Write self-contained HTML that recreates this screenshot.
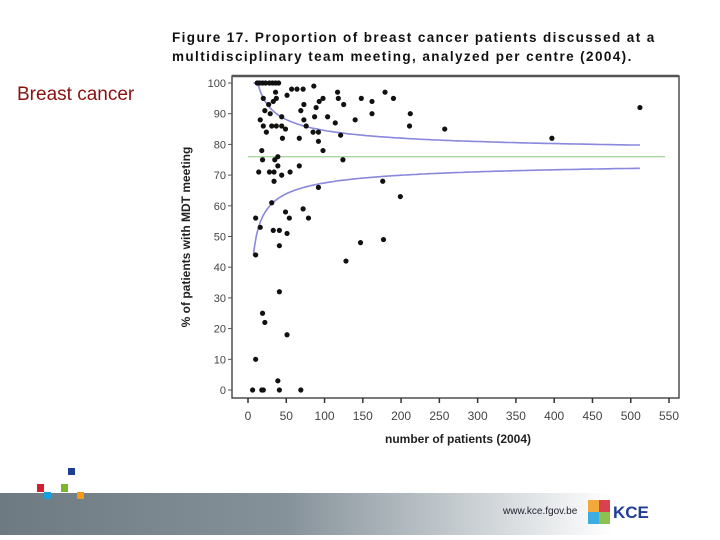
<!DOCTYPE html>
<html><head><meta charset="utf-8"><style>
body{margin:0;width:720px;height:540px;overflow:hidden;background:#fff;font-family:"Liberation Sans",sans-serif;position:relative}
.abs{position:absolute}
</style></head><body>
<div class="abs" style="left:17px;top:84px;font-size:19px;color:#8b1111">Breast cancer</div>
<div class="abs" style="left:172px;top:28px;font-size:13.5px;font-weight:bold;line-height:19px;letter-spacing:1.4px;color:#111;white-space:nowrap">Figure 17. Proportion of breast cancer patients discussed at a<br>multidisciplinary team meeting, analyzed per centre (2004).</div>
<svg class="abs" style="left:0;top:0" width="720" height="540">
<g id="g"></g>
</svg>
<div class="abs" style="left:0;top:493px;width:720px;height:42px;background:linear-gradient(90deg,#6d7a82 0%,#86929a 40%,#c8ced2 65%,#fff 85%)"></div>
<div class="abs" style="left:68px;top:468px;width:7px;height:7px;background:#1f3f93"></div>
<div class="abs" style="left:37px;top:484px;width:7px;height:8px;background:#d2202f"></div>
<div class="abs" style="left:61px;top:484px;width:7px;height:8px;background:#7ab52e"></div>
<div class="abs" style="left:44px;top:492px;width:7px;height:7px;background:#1aa0dc"></div>
<div class="abs" style="left:77px;top:492px;width:7px;height:7px;background:#f29a1a"></div>
<div class="abs" style="left:503px;top:506px;font-size:10px;color:#223">www.kce.fgov.be</div>
<div class="abs" style="left:588px;top:500px;width:22px;height:24px;background:conic-gradient(#d2202f 0 25%,#7ab52e 0 50%,#1aa0dc 0 75%,#f29a1a 0);opacity:.85"></div>
<div class="abs" style="left:613px;top:503px;font-size:17px;font-weight:bold;color:#1f3f93">KCE</div>
<script>
const xTicks=[0,50,100,150,200,250,300,350,400,450,500,550];
const yTicks=[0,10,20,30,40,50,60,70,80,90,100];
const centreN=[12,15,19,23,28,32,36,40,57,64,72,86,117,179,190,148,162,118,125,98,93,89,73,69,51,36,37,33,20,22,27,29,162,212,211,140,104,87,73,44,16,20,24,31,37,44,49,76,114,45,67,85,92,121,92,98,18,19,35,39,124,39,67,14,28,34,44,55,34,92,176,199,31,49,72,54,79,10,16,33,41,51,147,177,41,10,128,41,19,22,51,10,39,6,18,20,41,69,257,397,512];
const centrePct=[100,100,100,100,100,100,100,100,98,98,98,99,97,97,95,95,94,95,93,95,94,92,93,91,96,97,95,94,95,91,93,90,90,90,86,88,89,89,88,89,88,86,84,86,86,86,85,86,87,82,82,84,84,83,81,78,78,75,75,76,75,73,73,71,71,71,70,71,68,66,68,63,61,58,59,56,56,56,53,52,52,51,48,49,47,44,42,32,25,22,18,10,3,0,0,0,0,0,85,82,92];
const targetPct=[76];
const zLimit=[2];
const NS='http://www.w3.org/2000/svg';
const g=document.getElementById('g');
const X=n=>248+n*0.7655, Y=v=>390-v*3.07;
function mk(t,a){const e=document.createElementNS(NS,t);for(const k in a)e.setAttribute(k,a[k]);g.appendChild(e);return e;}
let e=mk('rect',{x:232,y:76,width:447,height:322,fill:'#fff',stroke:'#333','stroke-width':1.3});


mk('line',{x1:232,y1:76,x2:679,y2:76,stroke:'#555','stroke-width':2.5});
yTicks.forEach(v=>{
 mk('line',{x1:228,x2:232,y1:Y(v),y2:Y(v),stroke:'#555'});
 const t=mk('text',{x:226,y:Y(v)+4,'text-anchor':'end','font-size':11,fill:'#444'});t.textContent=v;
 
 
});
xTicks.forEach(v=>{
 mk('line',{x1:X(v),x2:X(v),y1:398,y2:403,stroke:'#333','stroke-width':1.5});
 const t=mk('text',{x:X(v),y:420,'text-anchor':'middle','font-size':12,fill:'#444'});t.textContent=v;
 
 
});
let t=mk('text',{x:458,y:443,'text-anchor':'middle','font-size':12,'font-weight':'bold',fill:'#222'});t.textContent='number of patients (2004)';


t=mk('text',{x:0,y:0,'text-anchor':'middle','font-size':12,'font-weight':'bold',fill:'#222',transform:'translate(190,237) rotate(-90)'});t.textContent='% of patients with MDT meeting';


const p=targetPct[0]/100;
e=mk('line',{x1:X(0),x2:X(545),y1:Y(targetPct[0]),y2:Y(targetPct[0]),stroke:'#a8d8a0','stroke-width':1.3});


[1,-1].forEach(s=>{
 let d='';
 for(let n=7;n<=512;n+=(n<40?0.5:4)){
  let v=100*(p+s*zLimit[0]*Math.sqrt(p*(1-p)/n));v=Math.max(0,Math.min(100,v));
  d+=(d?'L':'M')+X(n).toFixed(1)+','+Y(v).toFixed(1);
 }
 const l=mk('path',{d:d,fill:'none',stroke:'#8888dd','stroke-width':1.6});
 
 
});
centreN.forEach((n,i)=>{
 const c=mk('circle',{cx:X(n),cy:Y(centrePct[i]),r:2.6,fill:'#111'});
 
 
});
</script>
</body></html>
